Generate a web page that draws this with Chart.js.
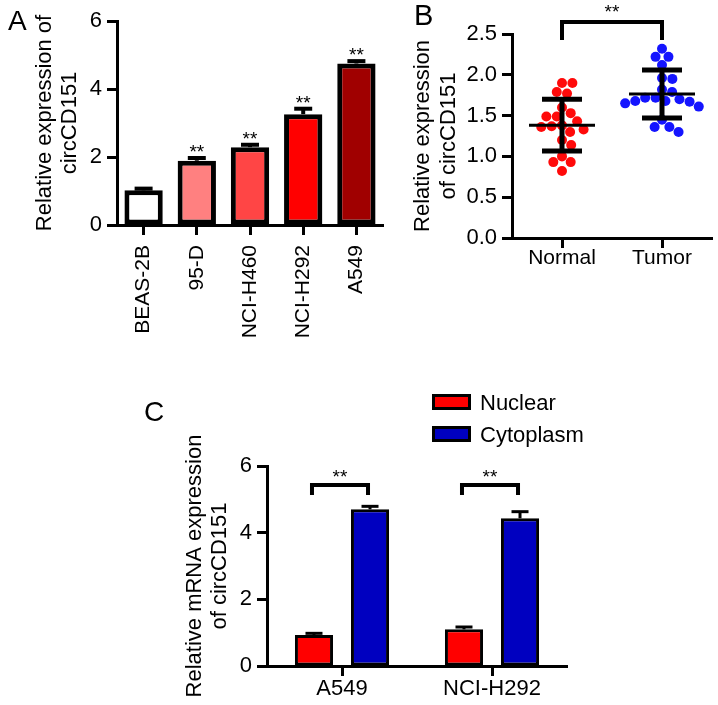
<!DOCTYPE html>
<html>
<head>
<meta charset="utf-8">
<script src="https://cdn.jsdelivr.net/npm/chart.js@4.4.1/dist/chart.umd.min.js"></script>
<style>
html, body { margin: 0; padding: 0; background: #fff; }
#wrap { position: relative; width: 718px; height: 705px; overflow: hidden; }
#wrap canvas { position: absolute; left: 0; top: 0; }
</style>
</head>
<body>
<div id="wrap">
  <canvas id="cA" width="718" height="705"></canvas>
  <canvas id="cB" width="718" height="705"></canvas>
  <canvas id="cC" width="718" height="705"></canvas>
</div>
<script>
// ---------- Panel A data ----------
const cellLines = ['BEAS-2B', '95-D', 'NCI-H460', 'NCI-H292', 'A549'];
const cellMeans = [1.02, 1.89, 2.29, 3.26, 4.75];
const cellErrors = [0.05, 0.08, 0.07, 0.16, 0.07];
const cellSig = ['', '**', '**', '**', '**'];
const cellColors = ['#ffffff', '#ff8080', '#ff4545', '#ff0000', '#a00000'];
const yTicksA = [0, 2, 4, 6];

// ---------- Panel B data ----------
const groupsB = ['Normal', 'Tumor'];
const normalValues = [1.90, 1.90, 1.79, 1.77, 1.60, 1.53, 1.49, 1.49, 1.43, 1.37,
                      1.38, 1.33, 1.36, 1.30, 1.20, 1.14, 1.00, 0.93, 0.93, 0.82];
const tumorValues = [2.32, 2.22, 2.22, 2.12, 1.95, 1.96, 1.79, 1.82, 1.72, 1.68,
                     1.67, 1.70, 1.65, 1.68, 1.72, 1.61, 1.45, 1.36, 1.36, 1.30];
const yTicksB = [0, 0.5, 1.0, 1.5, 2.0, 2.5];

// ---------- Panel C data ----------
const fractionLines = ['A549', 'NCI-H292'];
const nuclearMeans = [0.93, 1.10];
const nuclearErrors = [0.05, 0.07];
const cytoMeans = [4.70, 4.43];
const cytoErrors = [0.09, 0.20];
const fractionSig = ['**', '**'];
const yTicksC = [0, 2, 4, 6];

const FONT = '"Liberation Sans", Arial, Helvetica, sans-serif';
Chart.defaults.font.family = FONT;
Chart.defaults.color = '#000';
Chart.defaults.animation = false;

function fixSize(dim, size) {
  return s => {
    s[dim] = size;
    s.paddingTop = 0; s.paddingBottom = 0; s.paddingLeft = 0; s.paddingRight = 0;
  };
}
const gridStyle = { display: true, drawOnChartArea: false, drawTicks: true, tickLength: 10, tickWidth: 3, tickColor: '#000', offset: false };
const borderStyle = { display: true, color: '#000', width: 3 };

// ================= Panel A =================
const pluginA = {
  id: 'panelA',
  afterDatasetsDraw(chart) {
    const ctx = chart.ctx, y = chart.scales.y;
    const meta = chart.getDatasetMeta(0);
    ctx.save();
    ctx.strokeStyle = '#000';
    ctx.fillStyle = '#000';
    ctx.lineWidth = 4;
    meta.data.forEach((bar, i) => {
      const yb = y.getPixelForValue(cellMeans[i]);
      const yt = y.getPixelForValue(cellMeans[i] + cellErrors[i]);
      ctx.beginPath(); ctx.moveTo(bar.x, yb); ctx.lineTo(bar.x, yt); ctx.stroke();
      ctx.beginPath(); ctx.moveTo(bar.x - 9, yt); ctx.lineTo(bar.x + 9, yt); ctx.stroke();
      if (cellSig[i]) {
        ctx.font = '19px ' + FONT;
        ctx.textAlign = 'center';
        ctx.textBaseline = 'alphabetic';
        ctx.fillText(cellSig[i], bar.x, yt);
      }
    });
    ctx.font = '28px ' + FONT;
    ctx.textAlign = 'left';
    ctx.textBaseline = 'alphabetic';
    ctx.fillText('A', 8, 30);
    ctx.restore();
  }
};

new Chart(document.getElementById('cA'), {
  type: 'bar',
  data: {
    labels: cellLines,
    datasets: [{
      data: cellMeans,
      backgroundColor: cellColors,
      borderColor: '#000',
      borderWidth: 5,
      borderSkipped: false,
      barPercentage: 0.72,
      categoryPercentage: 1.0
    }]
  },
  options: {
    responsive: false,
    devicePixelRatio: 1,
    layout: { padding: { left: 0, top: 21, right: 335, bottom: 360 } },
    plugins: { legend: { display: false }, tooltip: { enabled: false } },
    scales: {
      x: {
        type: 'category',
        offset: true,
        grid: gridStyle,
        border: borderStyle,
        ticks: { font: { size: 21 }, minRotation: 90, maxRotation: 90, autoSkip: false, padding: 10, color: '#000' },
        afterFit: fixSize('height', 120)
      },
      y: {
        type: 'linear',
        min: 0, max: 6,
        afterBuildTicks: s => { s.ticks = yTicksA.map(v => ({ value: v })); },
        grid: gridStyle,
        border: borderStyle,
        ticks: { font: { size: 22 }, padding: 5, color: '#000' },
        title: {
          display: true,
          text: ['Relative expression of', 'circCD151'],
          font: { size: 22, lineHeight: '25px' },
          padding: { top: 32.5, bottom: 0 },
          color: '#000'
        },
        afterFit: fixSize('width', 117)
      }
    }
  },
  plugins: [pluginA]
});

// ================= Panel B =================
function swarm(values, center, xs, ys, diam) {
  const pxPerUnit = xs.getPixelForValue(1) - xs.getPixelForValue(0);
  const placed = [];
  const out = new Array(values.length);
  const order = values.map((v, i) => i).sort((a, b) => values[b] - values[a]);
  order.forEach(i => {
    const py = ys.getPixelForValue(values[i]);
    const near = placed.filter(p => Math.abs(p.y - py) < diam);
    const cands = [0];
    near.forEach(p => {
      const dx = Math.sqrt(diam * diam - (p.y - py) * (p.y - py));
      cands.push(p.x + dx, p.x - dx);
    });
    cands.sort((a, b) => Math.abs(a) - Math.abs(b));
    const px = cands.find(c => near.every(p => (p.x - c) * (p.x - c) + (p.y - py) * (p.y - py) >= diam * diam - 0.01));
    placed.push({ x: px, y: py });
    out[i] = { x: center + px / pxPerUnit, y: values[i] };
  });
  return out;
}

const pluginB = {
  id: 'panelB',
  afterDatasetsDraw(chart) {
    const ctx = chart.ctx, xs = chart.scales.x, ys = chart.scales.y;
    ctx.save();
    ctx.strokeStyle = '#000';
    ctx.fillStyle = '#000';
    [normalValues, tumorValues].forEach((vals, gi) => {
      const n = vals.length;
      const m = vals.reduce((a, b) => a + b, 0) / n;
      const sd = Math.sqrt(vals.reduce((a, b) => a + (b - m) * (b - m), 0) / (n - 1));
      const cx = xs.getPixelForValue(gi);
      const ym = ys.getPixelForValue(m), yh = ys.getPixelForValue(m + sd), yl = ys.getPixelForValue(m - sd);
      ctx.lineWidth = 5;
      ctx.beginPath(); ctx.moveTo(cx, yh); ctx.lineTo(cx, yl); ctx.stroke();
      ctx.beginPath(); ctx.moveTo(cx - 20, yh); ctx.lineTo(cx + 20, yh); ctx.stroke();
      ctx.beginPath(); ctx.moveTo(cx - 20, yl); ctx.lineTo(cx + 20, yl); ctx.stroke();
      ctx.lineWidth = 3;
      ctx.beginPath(); ctx.moveTo(cx - 33, ym); ctx.lineTo(cx + 33, ym); ctx.stroke();
    });
    const x0 = xs.getPixelForValue(0), x1 = xs.getPixelForValue(1);
    const yb = chart.chartArea.top - 12;
    ctx.lineWidth = 4;
    ctx.lineJoin = 'miter';
    ctx.beginPath();
    ctx.moveTo(x0, yb + 18); ctx.lineTo(x0, yb); ctx.lineTo(x1, yb); ctx.lineTo(x1, yb + 18);
    ctx.stroke();
    ctx.font = '19px ' + FONT;
    ctx.textAlign = 'center';
    ctx.textBaseline = 'alphabetic';
    ctx.fillText('**', (x0 + x1) / 2, yb - 4);
    ctx.font = '29px ' + FONT;
    ctx.textAlign = 'left';
    ctx.fillText('B', 414, 25);
    ctx.restore();
  }
};

const chartB = new Chart(document.getElementById('cB'), {
  type: 'scatter',
  data: {
    datasets: [
      { label: groupsB[0], data: normalValues.map(v => ({ x: 0, y: v })), backgroundColor: '#ff0a0a', pointRadius: 5, pointBorderWidth: 0, pointHoverRadius: 5 },
      { label: groupsB[1], data: tumorValues.map(v => ({ x: 1, y: v })), backgroundColor: '#1414ff', pointRadius: 5, pointBorderWidth: 0, pointHoverRadius: 5 }
    ]
  },
  options: {
    responsive: false,
    devicePixelRatio: 1,
    layout: { padding: { left: 380, top: 34, right: 6, bottom: 427 } },
    plugins: { legend: { display: false }, tooltip: { enabled: false } },
    scales: {
      x: {
        type: 'linear',
        min: -0.5, max: 1.5,
        afterBuildTicks: s => { s.ticks = groupsB.map((g, i) => ({ value: i })); },
        grid: gridStyle,
        border: borderStyle,
        ticks: { font: { size: 21 }, padding: -2, color: '#000', callback: v => groupsB[v] },
        afterFit: fixSize('height', 40)
      },
      y: {
        type: 'linear',
        min: 0, max: 2.5,
        afterBuildTicks: s => { s.ticks = yTicksB.map(v => ({ value: v })); },
        grid: gridStyle,
        border: borderStyle,
        ticks: { font: { size: 22 }, padding: 5, color: '#000', callback: v => v.toFixed(1) },
        title: {
          display: true,
          text: ['Relative expression', 'of circCD151'],
          font: { size: 22, lineHeight: '26px' },
          padding: { top: 30, bottom: 0 },
          color: '#000'
        },
        afterFit: fixSize('width', 132)
      }
    }
  },
  plugins: [pluginB]
});
chartB.data.datasets[0].data = swarm(normalValues, 0, chartB.scales.x, chartB.scales.y, 10.4);
chartB.data.datasets[1].data = swarm(tumorValues, 1, chartB.scales.x, chartB.scales.y, 10.4);
chartB.update('none');

// ================= Panel C =================
const pluginC = {
  id: 'panelC',
  afterDatasetsDraw(chart) {
    const ctx = chart.ctx, ys = chart.scales.y;
    const errs = [nuclearErrors, cytoErrors];
    const means = [nuclearMeans, cytoMeans];
    ctx.save();
    ctx.strokeStyle = '#000';
    ctx.fillStyle = '#000';
    ctx.lineWidth = 3;
    chart.data.datasets.forEach((ds, di) => {
      chart.getDatasetMeta(di).data.forEach((bar, i) => {
        const yb = ys.getPixelForValue(means[di][i]);
        const yt = ys.getPixelForValue(means[di][i] + errs[di][i]);
        ctx.beginPath(); ctx.moveTo(bar.x, yb); ctx.lineTo(bar.x, yt); ctx.stroke();
        ctx.beginPath(); ctx.moveTo(bar.x - 8.5, yt); ctx.lineTo(bar.x + 8.5, yt); ctx.stroke();
      });
    });
    const m0 = chart.getDatasetMeta(0).data, m1 = chart.getDatasetMeta(1).data;
    const yBr = ys.getPixelForValue(5.43);
    fractionSig.forEach((sig, i) => {
      const xa = m0[i].x - 2, xb = m1[i].x - 2;
      ctx.lineWidth = 4;
      ctx.lineJoin = 'miter';
      ctx.beginPath();
      ctx.moveTo(xa, yBr + 10); ctx.lineTo(xa, yBr); ctx.lineTo(xb, yBr); ctx.lineTo(xb, yBr + 10);
      ctx.stroke();
      ctx.font = '19px ' + FONT;
      ctx.textAlign = 'center';
      ctx.textBaseline = 'alphabetic';
      ctx.fillText(sig, (xa + xb) / 2, yBr - 2);
    });
    // legend
    chart.data.datasets.forEach((ds, di) => {
      const top = 395.5 + di * 32;
      ctx.fillStyle = ds.backgroundColor;
      ctx.fillRect(433.5, top, 36, 13);
      ctx.lineWidth = 3;
      ctx.strokeStyle = '#000';
      ctx.strokeRect(433.5, top, 36, 13);
      ctx.fillStyle = '#000';
      ctx.font = '22px ' + FONT;
      ctx.textAlign = 'left';
      ctx.textBaseline = 'alphabetic';
      ctx.fillText(ds.label, 480, top + 14.5);
    });
    ctx.font = '28px ' + FONT;
    ctx.textAlign = 'left';
    ctx.fillText('C', 144, 421);
    ctx.restore();
  }
};

new Chart(document.getElementById('cC'), {
  type: 'bar',
  data: {
    labels: fractionLines,
    datasets: [
      { label: 'Nuclear', data: nuclearMeans, backgroundColor: '#ff0000', borderColor: '#000', borderWidth: 3, borderSkipped: false, barPercentage: 0.68, categoryPercentage: 0.747 },
      { label: 'Cytoplasm', data: cytoMeans, backgroundColor: '#0000c0', borderColor: '#000', borderWidth: 3, borderSkipped: false, barPercentage: 0.68, categoryPercentage: 0.747 }
    ]
  },
  options: {
    responsive: false,
    devicePixelRatio: 1,
    layout: { padding: { left: 160, top: 466, right: 151, bottom: 2 } },
    plugins: { legend: { display: false }, tooltip: { enabled: false } },
    scales: {
      x: {
        type: 'category',
        offset: true,
        grid: gridStyle,
        border: borderStyle,
        ticks: { font: { size: 22 }, padding: 0, color: '#000', maxRotation: 0, autoSkip: false },
        afterFit: fixSize('height', 37)
      },
      y: {
        type: 'linear',
        min: 0, max: 6,
        afterBuildTicks: s => { s.ticks = yTicksC.map(v => ({ value: v })); },
        grid: gridStyle,
        border: borderStyle,
        ticks: { font: { size: 22 }, padding: 5, color: '#000' },
        title: {
          display: true,
          text: ['Relative mRNA expression', 'of circCD151'],
          font: { size: 22, lineHeight: '25px' },
          padding: { top: 22.5, bottom: 0 },
          color: '#000'
        },
        afterFit: fixSize('width', 107)
      }
    }
  },
  plugins: [pluginC]
});
</script>
</body>
</html>
